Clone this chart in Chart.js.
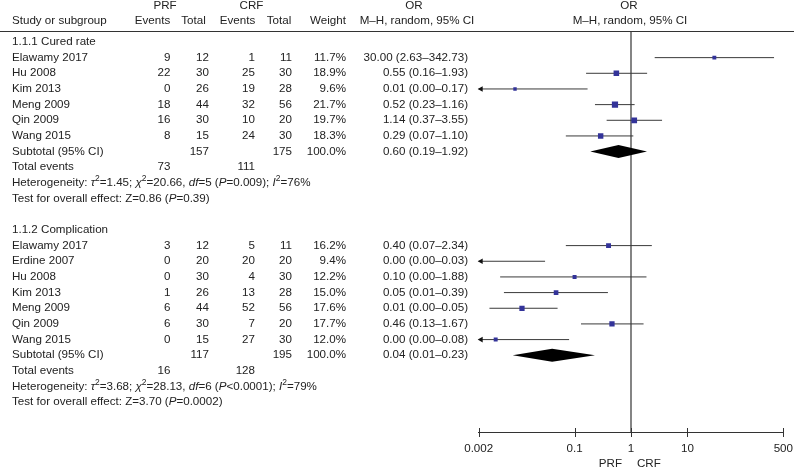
<!DOCTYPE html>
<html>
<head>
<meta charset="utf-8">
<script src="https://cdn.jsdelivr.net/npm/chart.js@4.4.1/dist/chart.umd.min.js"></script>
<style>
html, body { margin: 0; padding: 0; background: #fff; }
canvas { display: block; }
</style>
</head>
<body>
<canvas id="forest" width="794" height="472"></canvas>
<script>
// data
const groupTitles = ['1.1.1 Cured rate', '1.1.2 Complication'];
const groupStart = [0, 12];
const studies = [
    ['Elawamy 2017', 'Hu 2008', 'Kim 2013', 'Meng 2009', 'Qin 2009', 'Wang 2015'],
    ['Elawamy 2017', 'Erdine 2007', 'Hu 2008', 'Kim 2013', 'Meng 2009', 'Qin 2009', 'Wang 2015']
];
const prfEvents = [[9, 22, 0, 18, 16, 8], [3, 0, 0, 1, 6, 6, 0]];
const prfTotal = [[12, 30, 26, 44, 30, 15], [12, 20, 30, 26, 44, 30, 15]];
const crfEvents = [[1, 25, 19, 32, 10, 24], [5, 20, 4, 13, 52, 7, 27]];
const crfTotal = [[11, 30, 28, 56, 20, 30], [11, 20, 30, 28, 56, 20, 30]];
const weights = [[11.7, 18.9, 9.6, 21.7, 19.7, 18.3], [16.2, 9.4, 12.2, 15.0, 17.6, 17.7, 12.0]];
const orEst = [[30.00, 0.55, 0.0088, 0.52, 1.14, 0.29], [0.40, 0.0008, 0.10, 0.047, 0.0117, 0.46, 0.004]];
const orLow = [[2.63, 0.16, 0.0003, 0.23, 0.37, 0.07], [0.07, 0.0001, 0.0048, 0.0056, 0.0031, 0.13, 0.0002]];
const orHigh = [[342.73, 1.93, 0.17, 1.16, 3.55, 1.10], [2.34, 0.03, 1.88, 0.39, 0.05, 1.67, 0.08]];

const subPrfTotal = [157, 117];
const subCrfTotal = [175, 195];
const subOR = [0.60, 0.04];
const subLow = [0.19, 0.008];
const subHigh = [1.92, 0.23];
const eventsPrf = [73, 16];
const eventsCrf = [111, 128];

const tau2 = ['1.45', '3.68'];
const chi2 = ['20.66', '28.13'];
const dfHet = [5, 6];
const pHet = ['=0.009', '<0.0001'];
const i2 = [76, 79];
const zVal = ['0.86', '3.70'];
const pZ = ['0.39', '0.0002'];

const xTicks = [0.002, 0.1, 1, 10, 500];

const FONT = '"Liberation Sans", Arial, sans-serif';
const FS = 11.6;
const TXT = '#222';
Chart.defaults.font.family = FONT;
Chart.defaults.font.size = FS;
Chart.defaults.color = TXT;

// datasets
const ciSets = [];
const squares = [];
groupTitles.forEach((g, gi) => {
    studies[gi].forEach((s, i) => {
        const row = groupStart[gi] + 1 + i;
        ciSets.push({
            type: 'line',
            data: [{ x: orLow[gi][i], y: row }, { x: orHigh[gi][i], y: row }],
            borderColor: '#3a3a3a',
            borderWidth: 1,
            pointRadius: 0,
            showLine: true,
            order: 2
        });
        squares.push({ x: orEst[gi][i], y: row, w: weights[gi][i] });
    });
});

function rich(ctx, segs, x, y) {
    ctx.textAlign = 'left';
    segs.forEach(sg => {
        const t = typeof sg === 'string' ? sg : sg[0];
        const st = typeof sg === 'string' ? '' : sg[1];
        let size = FS, dy = 0, style = '';
        if (st.includes('i')) style = 'italic ';
        if (st.includes('s')) { size = 8.5; dy = -4; }
        ctx.font = style + size + 'px ' + FONT;
        ctx.fillText(t, x, y + dy);
        x += ctx.measureText(t).width;
    });
    ctx.font = FS + 'px ' + FONT;
}

const forestDecor = {
    id: 'forestDecor',
    beforeDatasetsDraw(chart) {
        const { ctx, chartArea, scales } = chart;
        const x1 = scales.x.getPixelForValue(1);
        ctx.save();
        ctx.strokeStyle = '#333';
        ctx.lineWidth = 1.2;
        ctx.beginPath();
        ctx.moveTo(x1, chartArea.top);
        ctx.lineTo(x1, chartArea.bottom);
        ctx.stroke();
        ctx.restore();
    },
    afterDraw(chart) {
        const { ctx, chartArea, scales } = chart;
        const xs = scales.x, ys = scales.y;
        const top = chartArea.top, bottom = chartArea.bottom;
        ctx.save();

        // header rule
        ctx.strokeStyle = '#333';
        ctx.lineWidth = 1;
        ctx.beginPath();
        ctx.moveTo(0, top + 0.5);
        ctx.lineTo(chart.width, top + 0.5);
        ctx.stroke();

        // axis ticks crossing the axis line
        xTicks.forEach(v => {
            const px = Math.round(xs.getPixelForValue(v)) + 0.5;
            ctx.beginPath();
            ctx.moveTo(px, bottom - 4);
            ctx.lineTo(px, bottom + 5);
            ctx.stroke();
        });

        // arrows for CIs running off the left edge
        ctx.fillStyle = '#111';
        groupTitles.forEach((g, gi) => {
            studies[gi].forEach((s, i) => {
                if (orLow[gi][i] < xs.min) {
                    const py = ys.getPixelForValue(groupStart[gi] + 1 + i);
                    const lx = chartArea.left;
                    ctx.beginPath();
                    ctx.moveTo(lx - 1, py);
                    ctx.lineTo(lx + 4, py - 2.8);
                    ctx.lineTo(lx + 4, py + 2.8);
                    ctx.closePath();
                    ctx.fill();
                }
            });
        });

        // subtotal diamonds
        ctx.fillStyle = '#000';
        groupTitles.forEach((g, gi) => {
            const py = ys.getPixelForValue(groupStart[gi] + 1 + studies[gi].length);
            const l = xs.getPixelForValue(subLow[gi]);
            const c = xs.getPixelForValue(subOR[gi]);
            const r = xs.getPixelForValue(subHigh[gi]);
            ctx.beginPath();
            ctx.moveTo(l, py);
            ctx.lineTo(c, py - 6.5);
            ctx.lineTo(r, py);
            ctx.lineTo(c, py + 6.5);
            ctx.closePath();
            ctx.fill();
        });

        // table text
        ctx.fillStyle = TXT;
        ctx.font = FS + 'px ' + FONT;
        ctx.textBaseline = 'middle';
        const put = (s, x, y, align) => { ctx.textAlign = align; ctx.fillText(s, x, y); };

        const h1 = top - 25.5, h2 = top - 10.3;
        put('PRF', 165, h1, 'center');
        put('CRF', 251.5, h1, 'center');
        put('OR', 414, h1, 'center');
        put('OR', 629, h1, 'center');
        put('Study or subgroup', 12, h2, 'left');
        put('Events', 152.5, h2, 'center');
        put('Total', 193.5, h2, 'center');
        put('Events', 237.5, h2, 'center');
        put('Total', 279, h2, 'center');
        put('Weight', 328, h2, 'center');
        put('M\u2013H, random, 95% CI', 417, h2, 'center');
        put('M\u2013H, random, 95% CI', 630, h2, 'center');

        const ciText = (e, l, h) => e.toFixed(2) + ' (' + l.toFixed(2) + '\u2013' + h.toFixed(2) + ')';

        groupTitles.forEach((g, gi) => {
            const s0 = groupStart[gi];
            put(g, 12, ys.getPixelForValue(s0), 'left');
            studies[gi].forEach((s, i) => {
                const py = ys.getPixelForValue(s0 + 1 + i);
                put(s, 12, py, 'left');
                put(String(prfEvents[gi][i]), 170.5, py, 'right');
                put(String(prfTotal[gi][i]), 209, py, 'right');
                put(String(crfEvents[gi][i]), 255, py, 'right');
                put(String(crfTotal[gi][i]), 292, py, 'right');
                put(weights[gi][i].toFixed(1) + '%', 346, py, 'right');
                put(ciText(orEst[gi][i], orLow[gi][i], orHigh[gi][i]), 468, py, 'right');
            });
            const n = studies[gi].length;
            const ySub = ys.getPixelForValue(s0 + 1 + n);
            put('Subtotal (95% CI)', 12, ySub, 'left');
            put(String(subPrfTotal[gi]), 209, ySub, 'right');
            put(String(subCrfTotal[gi]), 292, ySub, 'right');
            put('100.0%', 346, ySub, 'right');
            put(ciText(subOR[gi], subLow[gi], subHigh[gi]), 468, ySub, 'right');

            const yEv = ys.getPixelForValue(s0 + 2 + n);
            put('Total events', 12, yEv, 'left');
            put(String(eventsPrf[gi]), 170.5, yEv, 'right');
            put(String(eventsCrf[gi]), 255, yEv, 'right');

            const yHet = ys.getPixelForValue(s0 + 3 + n);
            rich(ctx, [
                'Heterogeneity: ', ['\u03c4', 'i'], ['2', 's'], '=' + tau2[gi] + '; ',
                ['\u03c7', 'i'], ['2', 's'], '=' + chi2[gi] + ', ',
                ['df', 'i'], '=' + dfHet[gi] + ' (', ['P', 'i'], pHet[gi] + '); ',
                ['I', 'i'], ['2', 's'], '=' + i2[gi] + '%'
            ], 12, yHet);

            const yZ = ys.getPixelForValue(s0 + 4 + n);
            rich(ctx, ['Test for overall effect: Z=' + zVal[gi] + ' (', ['P', 'i'], '=' + pZ[gi] + ')'], 12, yZ);
        });

        // favours labels
        const x1 = xs.getPixelForValue(1);
        put('PRF', x1 - 9, bottom + 32, 'right');
        put('CRF', x1 + 6, bottom + 32, 'left');

        ctx.restore();
    }
};

new Chart(document.getElementById('forest'), {
    type: 'scatter',
    data: {
        datasets: [
            {
                data: squares,
                pointStyle: 'rect',
                pointRadius: c => (1.2 + 0.23 * c.raw.w) / 1.414,
                pointHoverRadius: c => (1.2 + 0.23 * c.raw.w) / 1.414,
                backgroundColor: '#333399',
                borderWidth: 0,
                order: 0
            },
            ...ciSets
        ]
    },
    options: {
        responsive: false,
        animation: false,
        events: [],
        layout: { padding: { left: 478.7, right: 10.7, top: 31, bottom: 0 } },
        plugins: { legend: { display: false }, tooltip: { enabled: false } },
        scales: {
            x: {
                type: 'logarithmic',
                min: 0.002,
                max: 500,
                afterBuildTicks: scale => { scale.ticks = xTicks.map(v => ({ value: v })); },
                afterFit: scale => { scale.height = 40; },
                ticks: {
                    autoSkip: false,
                    maxRotation: 0,
                    padding: 0,
                    color: TXT,
                    font: { size: FS },
                    callback: v => String(v)
                },
                grid: { display: false, drawTicks: true, tickLength: 10 },
                border: { display: true, color: '#333', width: 1 }
            },
            y: {
                type: 'linear',
                reverse: true,
                min: -0.7,
                max: 24.9,
                display: false
            }
        }
    },
    plugins: [forestDecor]
});
</script>
</body>
</html>
